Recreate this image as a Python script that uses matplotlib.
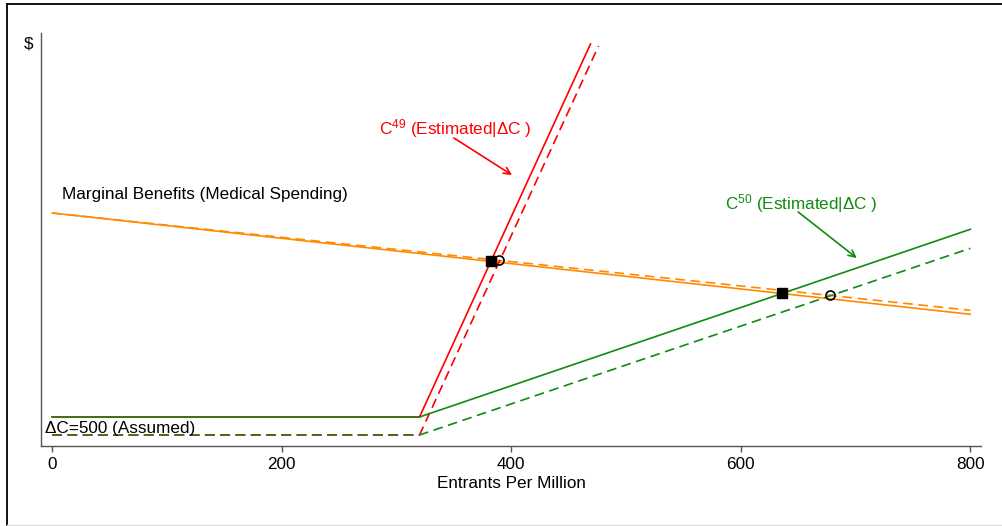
import matplotlib
matplotlib.use("Agg")
import matplotlib.pyplot as plt
from matplotlib.lines import Line2D

plt.rcParams['font.family'] = ['Liberation Sans', 'DejaVu Sans']
plt.rcParams['mathtext.fontset'] = 'custom'
plt.rcParams['mathtext.rm'] = 'Liberation Sans'
plt.rcParams['mathtext.it'] = 'Liberation Sans:italic'
plt.rcParams['lines.scale_dashes'] = False

# ---- data (x: entrants per million, y: $ in arbitrary units) ----
mb_x = [0, 800]
mb_solid_y = [233, 131.7]
mb_dashed_y = [233, 135.7]

c49_solid_x = [0, 320, 469]
c49_solid_y = [29, 29, 402]
c49_dashed_x = [0, 320, 476]
c49_dashed_y = [11, 11, 400]

c50_solid_x = [0, 320, 800]
c50_solid_y = [29, 29, 216.7]
c50_dashed_x = [0, 320, 800]
c50_dashed_y = [11, 11, 197.7]

floor_x = [0, 320]
floor_solid_y = [29, 29]
floor_dashed_y = [11, 11]

eq_solid_x = [382.3, 635.5]
eq_solid_y = [184.6, 152.6]
eq_dashed_x = [389.5, 677.5]
eq_dashed_y = [185.6, 150.6]

xticks = [0, 200, 400, 600, 800]

RED = '#ff0000'
GREEN = '#118a11'
ORANGE = '#ff8a00'
OLIVE = '#4f6a1c'
DASH = (0, (7, 4))
LW = 1.2

fig = plt.figure(figsize=(10.02, 5.26), dpi=100)
ax = fig.add_axes([41/1002, 1-446/526, 940/1002, 413/526])
ax.set_xlim(-9.85, 809.3)
ax.set_ylim(0, 413)

ax.plot(mb_x, mb_dashed_y, color=ORANGE, lw=LW, linestyle=DASH)
ax.plot(mb_x, mb_solid_y, color=ORANGE, lw=LW)

ax.plot(c49_dashed_x, c49_dashed_y, color=RED, lw=LW, linestyle=DASH)
ax.plot(c49_solid_x, c49_solid_y, color=RED, lw=LW)
ax.plot(c50_dashed_x, c50_dashed_y, color=GREEN, lw=LW, linestyle=DASH)
ax.plot(c50_solid_x, c50_solid_y, color=GREEN, lw=LW)
ax.plot(floor_x, floor_dashed_y, color=OLIVE, lw=LW, linestyle=DASH)
ax.plot(floor_x, floor_solid_y, color=OLIVE, lw=LW)

ax.plot(eq_solid_x, eq_solid_y, linestyle='none', marker='s', markersize=7,
        color='black', zorder=5)
ax.plot(eq_dashed_x, eq_dashed_y, linestyle='none', marker='o', markersize=6.5,
        markerfacecolor='none', markeredgecolor='black', markeredgewidth=1.2, zorder=5)

FS = 12.3
ax.text(8.5, 252, 'Marginal Benefits (Medical Spending)', fontsize=FS,
        ha='left', va='center', color='black')
ax.text(285, 317, 'C$^{\\mathrm{49}}$ (Estimated|\u0394C )', fontsize=FS,
        ha='left', va='center', color=RED)
ax.annotate('', xy=(400.6, 271), xytext=(350, 308),
            arrowprops=dict(arrowstyle='->', color=RED, lw=1.2,
                            shrinkA=0, shrinkB=0, mutation_scale=12))
ax.text(586, 242.5, 'C$^{\\mathrm{50}}$ (Estimated|\u0394C )', fontsize=FS,
        ha='left', va='center', color=GREEN)
ax.annotate('', xy=(701, 188), xytext=(650, 234),
            arrowprops=dict(arrowstyle='->', color=GREEN, lw=1.2,
                            shrinkA=0, shrinkB=0, mutation_scale=12))
ax.text(-6.3, 17, '\u0394C=500 (Assumed)', fontsize=FS, ha='left', va='center',
        color='black')

for s in ['top', 'right']:
    ax.spines[s].set_visible(False)
for s in ['left', 'bottom']:
    ax.spines[s].set_color('#555555')
    ax.spines[s].set_linewidth(1.0)
ax.set_yticks([])
ax.set_xticks(xticks)
ax.set_xticklabels([str(t) for t in xticks])
ax.tick_params(axis='x', length=4, width=1.0, color='#555555', labelsize=FS, pad=4)
ax.set_xlabel('Entrants Per Million', fontsize=FS, labelpad=3)

fig.text(29/1002, 1-44/526, '$', fontsize=FS, ha='center', va='center')

# outer graph-region frame
fig.add_artist(Line2D([7/1002, 7/1002], [1-4/526, 1-525/526], color='black', lw=1.3,
                      transform=fig.transFigure))
fig.add_artist(Line2D([7/1002, 1.0], [1-4/526, 1-4/526], color='black', lw=1.3,
                      transform=fig.transFigure))
fig.add_artist(Line2D([7/1002, 1.0], [1-524.8/526, 1-524.8/526], color='#dddddd', lw=1.0,
                      transform=fig.transFigure))

fig.savefig('out.png', dpi=100, facecolor='white')
